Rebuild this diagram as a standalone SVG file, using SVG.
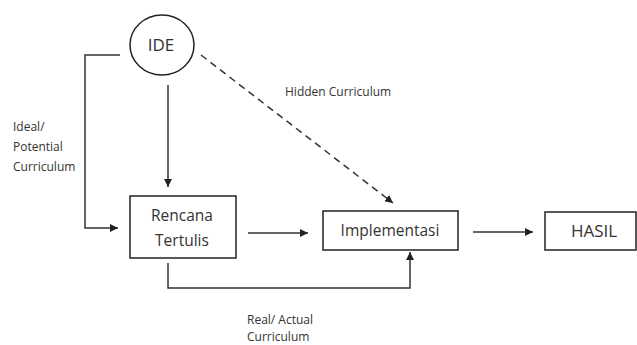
<svg xmlns="http://www.w3.org/2000/svg" width="637" height="345" viewBox="0 0 637 345">
<style>
.box{fill:#fff;stroke:#222;stroke-width:1.5}
.ln{fill:none;stroke:#333;stroke-width:1.5}
.dash{stroke-dasharray:7,5}
text{font-family:"Open Sans","Liberation Sans",sans-serif;fill:#333}
.lbl{font-size:12px}
.nt{font-size:15.5px;text-anchor:middle}
</style>
<defs>
<marker id="ah" viewBox="0 0 10 10" refX="10" refY="5" markerWidth="8" markerHeight="8" markerUnits="userSpaceOnUse" orient="auto">
<path d="M0,0 L10,5 L0,10 z" fill="#222"/>
</marker>
</defs>
<rect width="637" height="345" fill="#fff"/>
<g id="connectors">
<path class="ln" d="M120,55 H85 V228 H118" marker-end="url(#ah)"/>
<path class="ln" d="M168,85 V187" marker-end="url(#ah)"/>
<path class="ln dash" d="M201,55 L393,203" marker-end="url(#ah)"/>
<path class="ln" d="M248,233 H308" marker-end="url(#ah)"/>
<path class="ln" d="M473,232 H533" marker-end="url(#ah)"/>
<path class="ln" d="M168,263 V288 H410 V252" marker-end="url(#ah)"/>
</g>
<g id="ide">
<ellipse class="box" cx="162" cy="45" rx="32" ry="30"/>
<text class="nt" x="161" y="51" style="font-size:17px">IDE</text>
</g>
<g id="rencana">
<rect class="box" x="130" y="196" width="106" height="62"/>
<text class="nt" x="182" y="221">Rencana</text>
<text class="nt" x="182" y="246">Tertulis</text>
</g>
<g id="implementasi">
<rect class="box" x="323" y="211" width="135" height="39"/>
<text class="nt" x="390" y="236">Implementasi</text>
</g>
<g id="hasil">
<rect class="box" x="545" y="212" width="91" height="38"/>
<text class="nt" x="594" y="237" style="font-size:17px">HASIL</text>
</g>
<g id="labels">
<text class="lbl" x="285" y="96">Hidden Curriculum</text>
<text class="lbl" x="13" y="131">Ideal/</text>
<text class="lbl" x="13" y="151">Potential</text>
<text class="lbl" x="13" y="171">Curriculum</text>
<text class="lbl" x="247" y="324">Real/ Actual</text>
<text class="lbl" x="247" y="341">Curriculum</text>
</g>
</svg>
